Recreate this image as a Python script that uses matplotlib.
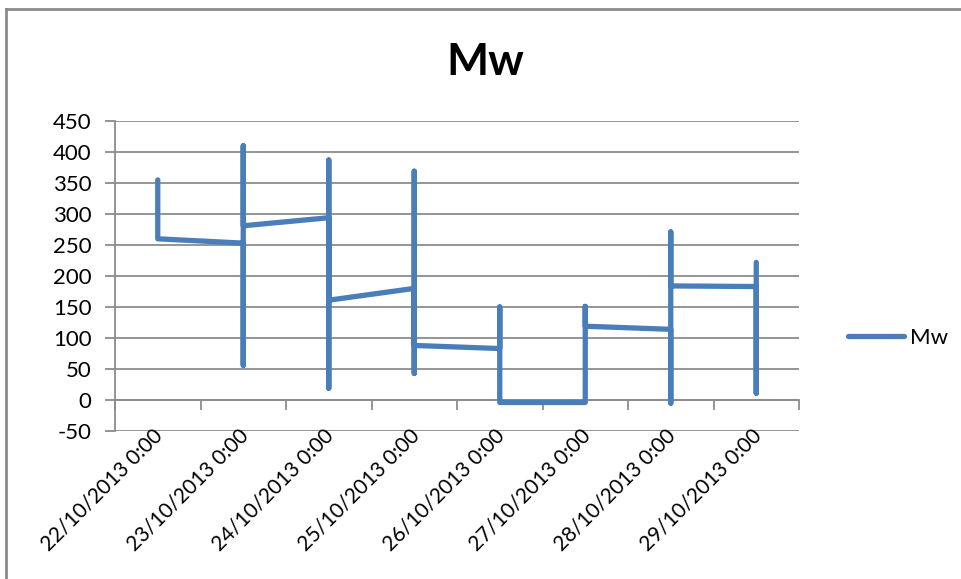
import matplotlib
matplotlib.use("Agg")
import matplotlib.pyplot as plt
from matplotlib.transforms import blended_transform_factory

days = ["22/10/2013 0:00", "23/10/2013 0:00", "24/10/2013 0:00", "25/10/2013 0:00",
        "26/10/2013 0:00", "27/10/2013 0:00", "28/10/2013 0:00", "29/10/2013 0:00"]

# readings in the order they were logged during each day
mw_22 = [355, 260]
mw_23 = [253, 56, 410, 281]
mw_24 = [294, 19, 387, 161]
mw_25 = [180, 43, 369, 88]
mw_26 = [83, 150, -3, -4]
mw_27 = [-4, 151, 119]
mw_28 = [114, -5, 271, 184]
mw_29 = [183, 11, 222]

readings = [mw_22, mw_23, mw_24, mw_25, mw_26, mw_27, mw_28, mw_29]

x = []
y = []
for i, vals in enumerate(readings):
    x += [i] * len(vals)
    y += vals

plt.rcParams['font.family'] = ['Lato', 'DejaVu Sans']
plt.rcParams['axes.unicode_minus'] = False

fig = plt.figure(figsize=(9.62, 5.79), dpi=100)
ax = fig.add_axes([115 / 962, 1 - 431 / 579, 684 / 962, 310 / 579])

grid_c = "#8c8c8c"
ax.plot(x, y, color="#4a7ebb", lw=3.8, solid_capstyle="round",
        solid_joinstyle="round", label="Mw", zorder=3)

ax.set_ylim(-50, 450)
ax.set_xlim(-0.5, len(days) - 0.5)
ax.set_yticks(range(-50, 451, 50))
ax.yaxis.grid(True, color=grid_c, lw=1.3)
ax.set_axisbelow(True)

for s in ["top", "right"]:
    ax.spines[s].set_visible(False)
ax.spines["left"].set_color(grid_c)
ax.spines["left"].set_linewidth(1.3)
ax.spines["bottom"].set_position(("data", 0))
ax.spines["bottom"].set_color(grid_c)
ax.spines["bottom"].set_linewidth(1.3)

ax.set_xticks([i - 0.5 for i in range(len(days) + 1)])
ax.set_xticklabels([])
ax.tick_params(axis="x", direction="out", length=7, width=1.3, color=grid_c)
ax.tick_params(axis="y", direction="out", length=7, width=1.3, color=grid_c,
               labelsize=16, pad=10)

trans = blended_transform_factory(ax.transData, ax.transAxes)
for i, d in enumerate(days):
    ax.text(i + 0.02, -0.005, d, transform=trans, rotation=45, rotation_mode="anchor",
            ha="right", va="center", fontsize=15)

fig.text(0.505, 0.893, "Mw", ha="center", va="center", fontsize=32, fontweight="bold")

ax.legend(loc="center left", bbox_to_anchor=(828 / 962, 1 - 338 / 579),
          bbox_transform=fig.transFigure, frameon=False, fontsize=16,
          handlelength=2.5, handletextpad=0.3)

# chart area border (only top and left visible in the source)
fig.add_artist(plt.Line2D([6 / 962, 6 / 962], [0, 1 - 9 / 579], color="#8c8c8c", lw=2))
fig.add_artist(plt.Line2D([6 / 962, 1], [1 - 9 / 579, 1 - 9 / 579], color="#8c8c8c", lw=2))

fig.savefig("out.png", dpi=100)
plt.close()
